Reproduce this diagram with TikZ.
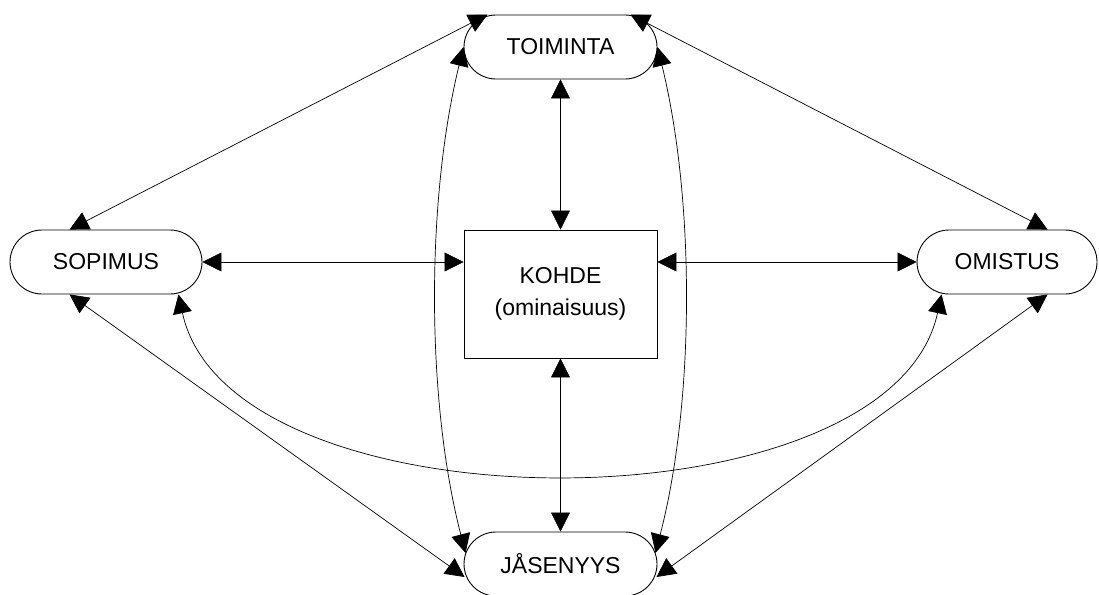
\documentclass[tikz,border=0pt]{standalone}
\usepackage{fontspec}
\setmainfont{Liberation Sans}
\usetikzlibrary{arrows.meta,calc}
\begin{document}
\begin{tikzpicture}[x=1pt,y=-1pt,
  pill/.style={draw, rounded corners=32pt, minimum height=64pt, inner sep=0pt,
    font=\fontsize{23}{27}\selectfont, line width=0.9pt},
  boxnode/.style={draw, minimum width=193pt, minimum height=128pt, inner sep=0pt,
    align=center, font=\fontsize{23}{32}\selectfont, line width=0.9pt},
  link/.style={line width=0.7pt,
    {Triangle[length=19pt,width=19pt]}-{Triangle[length=19pt,width=19pt]}}]
\useasboundingbox (0,0) rectangle (1099,594);
\node[pill, minimum width=193pt] (toim) at (560.5,47) {TOIMINTA};
\node[pill, minimum width=192pt] (sop) at (106,262) {SOPIMUS};
\node[pill, minimum width=180pt] (om) at (1007,262) {OMISTUS};
\node[boxnode] (koh) at (560.5,294) {KOHDE\\(ominaisuus)};
\node[pill, minimum width=193pt] (jas) at (560.5,564) {JÅSENYYS};

\draw[link] ([xshift=60pt]sop.north west) -- ([xshift=24pt]toim.north west);
\draw[link] ([xshift=-27pt]toim.north east) -- ([xshift=131pt]om.north west);
\draw[link] (toim.south) -- (koh.north);
\draw[link] (toim.west) .. controls (426,200) and (426,400) .. ([shift={(2pt,11pt)}]jas.west);
\draw[link] (toim.east) .. controls (695,200) and (695,400) .. ([shift={(-2pt,11pt)}]jas.east);
\draw[link] (sop.east) -- (sop.east -| koh.west);
\draw[link] (koh.east |- om.west) -- (om.west);
\draw[link] (koh.south) -- (jas.north);
\draw[link] ([xshift=60pt]sop.south west) -- ([shift={(1pt,-13pt)}]jas.west);
\draw[link] ([xshift=131pt]om.south west) -- ([shift={(-1pt,-13pt)}]jas.east);
\draw[link] ([xshift=-24pt]sop.south east) .. controls (230,533) and (890,533) .. ([xshift=25pt]om.south west);
\end{tikzpicture}
\end{document}
